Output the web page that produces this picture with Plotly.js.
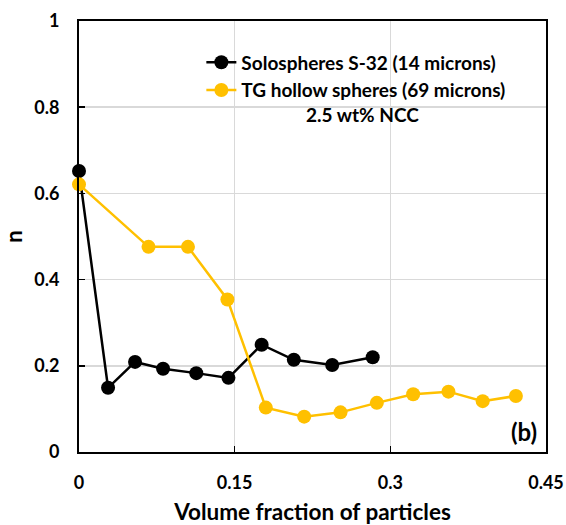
<!DOCTYPE html>
<html>
<head>
<meta charset="utf-8">
<script src="https://cdn.plot.ly/plotly-3.0.1.min.js"></script>
<style>html,body{margin:0;padding:0;background:#fff}#chart{width:566px;height:525px}</style>
</head>
<body>
<div id="chart"></div>
<script>
// Solospheres S-32 (14 microns)
const soloX = [0, 0.028, 0.054, 0.081, 0.113, 0.144, 0.176, 0.207, 0.244, 0.283];
const soloY = [0.652, 0.149, 0.209, 0.193, 0.183, 0.172, 0.249, 0.214, 0.202, 0.220];
// TG hollow spheres (69 microns)
const tgX = [0, 0.067, 0.105, 0.143, 0.180, 0.217, 0.252, 0.287, 0.322, 0.356, 0.389, 0.421];
const tgY = [0.621, 0.476, 0.476, 0.354, 0.103, 0.082, 0.092, 0.114, 0.134, 0.140, 0.118, 0.130];
const seriesNames = ['Solospheres S-32 (14 microns)', 'TG hollow spheres (69 microns)'];
const xTicks = [0, 0.15, 0.3, 0.45];
const xTickText = ['0', '0.15', '0.3', '0.45'];
const yTicks = [0, 0.2, 0.4, 0.6, 0.8, 1];
const yTickText = ['0', '0.2', '0.4', '0.6', '0.8', '1'];

const FONT = 'Lato, "Open Sans", sans-serif';
const W = 'bold';

const traces = [
  {x: soloX, y: soloY, name: seriesNames[0], mode: 'lines+markers',
   line: {color: '#000000', width: 2.5}, marker: {color: '#000000', size: 14}, cliponaxis: false},
  {x: tgX, y: tgY, name: seriesNames[1], mode: 'lines+markers',
   line: {color: '#FFC000', width: 2.5}, marker: {color: '#FFC000', size: 14}, cliponaxis: false}
];

const axisCommon = {
  showline: true, linecolor: '#000', linewidth: 2, mirror: true,
  showgrid: true, gridcolor: '#d9d9d9', gridwidth: 1.5,
  zeroline: false, ticks: 'inside', ticklen: 6, tickcolor: '#000', tickwidth: 1.5,
  tickfont: {family: FONT, size: 18, color: '#000', weight: W}
};

const layout = {
  width: 566, height: 525,
  margin: {l: 79, r: 20, t: 21, b: 73},
  paper_bgcolor: '#fff', plot_bgcolor: '#fff',
  showlegend: true,
  legend: {x: 0.262, y: 0.948, xanchor: 'left', yanchor: 'top', bgcolor: 'rgba(0,0,0,0)',
           font: {family: FONT, size: 19, color: '#000', weight: W}, itemwidth: 30, tracegroupgap: 0},
  xaxis: Object.assign({}, axisCommon, {
    range: [0, 0.45], tickvals: xTicks, ticktext: xTickText, ticklabelstandoff: 13,
    title: {text: 'Volume fraction of particles', standoff: 24,
            font: {family: FONT, size: 22.5, color: '#000', weight: W}}
  }),
  yaxis: Object.assign({}, axisCommon, {
    range: [0, 1], tickvals: yTicks, ticktext: yTickText, ticklabelstandoff: 14,
    title: {text: 'n', standoff: 12,
            font: {family: FONT, size: 22, color: '#000', weight: W}}
  }),
  annotations: [
    {text: '2.5 wt% NCC', x: 0.608, y: 0.783, xref: 'paper', yref: 'paper', showarrow: false,
     xanchor: 'center', yanchor: 'middle', font: {family: FONT, size: 19, color: '#000', weight: W}},
    {text: '(b)', x: 0.986, y: 0.048, xref: 'paper', yref: 'paper', showarrow: false,
     xanchor: 'right', yanchor: 'middle', font: {family: FONT, size: 24, color: '#000', weight: W}}
  ]
};

Plotly.newPlot('chart', traces, layout, {displayModeBar: false, staticPlot: true});
</script>
</body>
</html>
